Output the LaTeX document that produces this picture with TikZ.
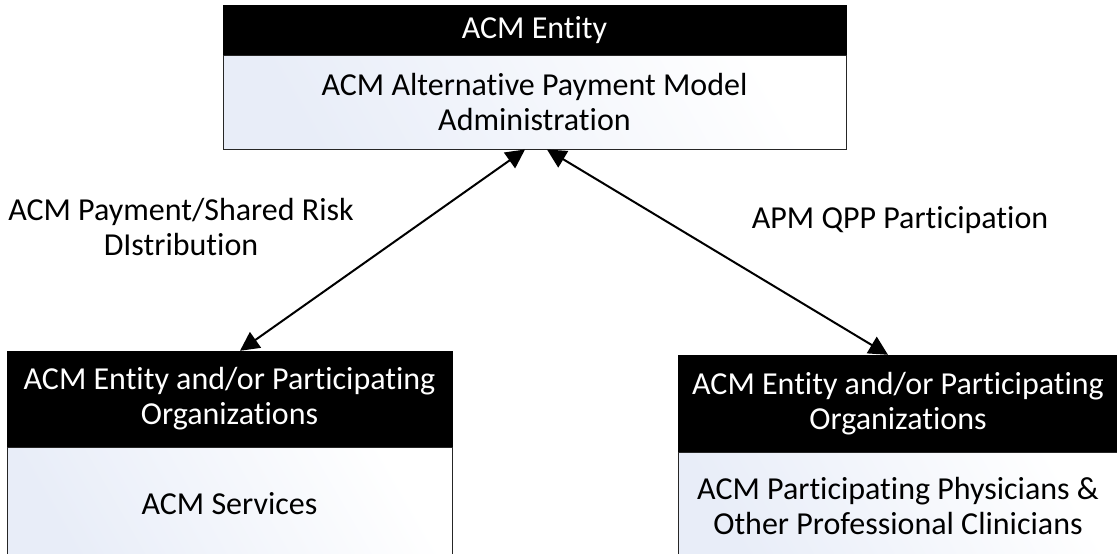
\documentclass[tikz,border=0pt]{standalone}
\usepackage{fontspec}
\setmainfont[Ligatures=NoCommon]{Carlito}
\usetikzlibrary{arrows.meta}
\definecolor{bodyblue}{RGB}{232,237,248}
\begin{document}
\begin{tikzpicture}[x=1pt, y=-1pt,
        head/.style={draw=black, fill=black, text=white, align=center, inner sep=0pt, font=\fontsize{32}{35}\selectfont},
        body/.style={draw=black!85, line width=1pt, left color=bodyblue, right color=white, shading angle=120, align=center, inner sep=0pt, font=\fontsize{32}{35}\selectfont},
        link/.style={line width=2pt, {Triangle[length=19pt,width=19pt]}-{Triangle[length=19pt,width=19pt]}},
        lbl/.style={align=center, font=\fontsize{32}{35}\selectfont}]
            \useasboundingbox (0,0) rectangle (1117,554);
            \node[head, minimum width=623pt, minimum height=50pt] (entity) at (534.5,30) {ACM Entity};
            \node[body, minimum width=623pt, minimum height=94pt] (admin) at (534.5,102) {ACM Alternative Payment Model\\Administration};
            \node[head, minimum width=445pt, minimum height=96pt] (leftorg) at (229.5,399) {ACM Entity and/or Participating\\Organizations};
            \node[body, minimum width=445pt, minimum height=113pt] (services) at (229.5,503.5) {ACM Services};
            \node[head, minimum width=440pt, minimum height=97pt] (rightorg) at (898,403.5) {ACM Entity and/or Participating\\Organizations};
            \node[body, minimum width=440pt, minimum height=108pt] (clinicians) at (898,506) {ACM Participating Physicians \&\\Other Professional Clinicians};
            \draw[link] ([xshift=-9.5pt]admin.south) -- ([xshift=10.5pt]leftorg.north);
            \draw[link] ([xshift=12.5pt]admin.south) -- ([xshift=-10pt]rightorg.north);
                  \node[lbl] (payment) at (181,227) {ACM Payment/Shared Risk\\DIstribution};
                  \node[lbl] (qpp) at (900,220) {APM QPP Participation};
      \end{tikzpicture}
\end{document}
